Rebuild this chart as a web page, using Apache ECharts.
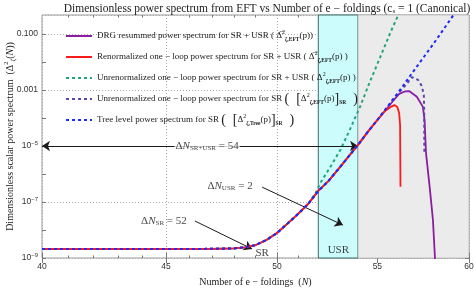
<!DOCTYPE html>
<html><head><meta charset="utf-8">
<script src="https://cdn.jsdelivr.net/npm/echarts@6/dist/echarts.min.js"></script>
<style>html,body{margin:0;padding:0;background:#fff}#c{width:474px;height:289px}</style>
</head><body><div id="c"></div>
<script>
// ---------- data (N = number of e-foldings, P = power spectrum) ----------
const treeN = [40, 44, 47, 48, 48.5, 49, 49.5, 50, 50.5, 51, 51.5, 52, 52.5, 53, 53.5, 54, 54.5, 55, 56, 57, 58, 59, 59.3];
const treeP = [2.1e-9, 2.1e-9, 2.12e-9, 2.2e-9, 2.4e-9, 2.9e-9, 4.4e-9, 7.8e-9, 1.7e-8, 3.7e-8, 8.5e-8, 2.5e-7, 5.6e-7, 1.5e-6, 4.1e-6, 1.1e-5, 3.2e-5, 8.5e-5, 6.6e-4, 5.6e-3, 0.044, 0.37, 0.7];

const renN = [40, 44, 47, 48, 48.5, 49, 49.5, 50, 50.5, 51, 51.5, 52, 52.5, 53, 53.5, 54, 54.5, 55, 55.4, 55.7, 55.9, 56.05, 56.15, 56.2, 56.22];
const renP = [2.1e-9, 2.1e-9, 2.12e-9, 2.2e-9, 2.4e-9, 2.9e-9, 4.4e-9, 7.8e-9, 1.7e-8, 3.7e-8, 8.5e-8, 2.5e-7, 5.6e-7, 1.5e-6, 4.1e-6, 1.1e-5, 3.2e-5, 8.5e-5, 1.8e-4, 2.5e-4, 2.9e-4, 2.5e-4, 1.5e-4, 5.6e-5, 3.5e-7];

const drgN = [40, 44, 47, 48, 48.5, 49, 49.5, 50, 50.5, 51, 51.5, 52, 52.5, 53, 53.5, 54, 54.5, 55, 55.5, 55.8, 56.15, 56.45, 56.7, 57.1, 57.43, 57.52, 57.6, 57.8, 57.98, 58.1];
const drgP = [2.1e-9, 2.1e-9, 2.12e-9, 2.2e-9, 2.4e-9, 2.9e-9, 4.4e-9, 7.8e-9, 1.7e-8, 3.7e-8, 8.5e-8, 2.5e-7, 5.6e-7, 1.5e-6, 4.1e-6, 1.1e-5, 3.2e-5, 8.5e-5, 2.2e-4, 3.9e-4, 7.3e-4, 8.9e-4, 9.1e-4, 5.8e-4, 2.5e-4, 8.5e-5, 5.6e-6, 3.5e-7, 2.3e-8, 8e-10];

const unSRUSRN = [40, 44, 47, 48, 48.5, 49, 49.5, 50, 50.5, 51, 51.5, 51.9, 52.1, 52.6, 53.1, 53.6, 54.1, 54.6, 55.15, 55.7, 56.1, 56.3];
const unSRUSRP = [2.1e-9, 2.1e-9, 2.12e-9, 2.2e-9, 2.4e-9, 2.9e-9, 4.4e-9, 7.8e-9, 1.7e-8, 3.7e-8, 8.5e-8, 2.3e-7, 4.8e-7, 1.8e-6, 7.2e-6, 4.1e-5, 2.5e-4, 1.9e-3, 0.015, 0.12, 0.48, 1.0];

const unSRN = [40, 44, 47, 48, 48.5, 49, 49.5, 50, 50.5, 51, 51.5, 52, 52.5, 53, 53.5, 54, 54.5, 55, 56, 56.5, 56.84, 57.17, 57.37, 57.48, 57.5, 57.51];
const unSRP = [2.1e-9, 2.1e-9, 2.12e-9, 2.2e-9, 2.4e-9, 2.9e-9, 4.4e-9, 7.8e-9, 1.7e-8, 3.7e-8, 8.5e-8, 2.5e-7, 5.6e-7, 1.5e-6, 4.1e-6, 1.1e-5, 3.2e-5, 8.5e-5, 6.6e-4, 1.5e-3, 2.9e-3, 2.3e-3, 1.4e-3, 6.6e-4, 1.9e-4, 5.6e-6];

// tick labels
const xTicks = [40, 45, 50, 55, 60];
const xMinorTicks = [41, 42, 43, 44, 46, 47, 48, 49, 51, 52, 53, 54, 56, 57, 58, 59];
const yLabelExp = [-9, -7, -5, -3, -1];
const yTickExp = [-9, -8, -7, -6, -5, -4, -3, -2, -1];

// phases
const usrStart = 52, usrEnd = 54, nEnd = 60;

// annotations
const annN = [46.79, 47.82, 44.91, 49.3, 53.0];
const annP = [1e-5, 3.7e-7, 2.1e-8, 1.55e-9, 1.95e-9];

// ---------- axis transforms (log x, log y) ----------
const X = n => Math.log(n);
const Y = p => Math.log10(p) + 9;
const pts = (ns, ps) => ns.map((n, i) => [X(n), Y(ps[i])]);

const SERIF = 'Liberation Serif';
const xMin = X(40), xMax = X(60), yMin = 0, yMax = Y(0.48);

const richLeg = {
  t: {fontFamily: SERIF, fontSize: 9, lineHeight: 14, color: '#222', verticalAlign: 'middle'},
  p: {fontFamily: SERIF, fontSize: 6, color: '#222', verticalAlign: 'top'},
  b: {fontFamily: SERIF, fontSize: 5.5, fontWeight: 'bold', color: '#222', verticalAlign: 'bottom'},
  s: {fontFamily: SERIF, fontSize: 5.5, fontWeight: 'bold', color: '#222', verticalAlign: 'bottom'},
  g: {fontFamily: SERIF, fontSize: 14, lineHeight: 14, color: '#222', verticalAlign: 'middle'}
};
const legText = {
  'DRG': '{t|DRG resummed power spectrum for SR + USR ( }{t|Δ̅}{p|2}{b|ζ,EFT}{t|(p))}',
  'REN': '{t|Renormalized one − loop power spectrum for SR + USR ( }{t|Δ̅}{p|2}{b|ζ,EFT}{t|(p) )}',
  'UN1': '{t|Unrenormalized one − loop power spectrum for SR + USR ( Δ}{p|2}{b|ζ,EFT}{t|(p) )}',
  'UN2': '{t|Unrenormalized one − loop power spectrum for SR }{g|(  [}{t|Δ}{p|2}{b|ζ,EFT}{t|(p)}{g|]}{s|SR}{g|  )}',
  'TREE': '{t|Tree level power spectrum for SR }{g|(  [}{t|Δ}{p|2}{b|ζ,Tree}{t|(p)}{g|]}{s|SR}{g|  )}'
};

const annRich = {
  a: {fontFamily: SERIF, fontSize: 11, color: '#111'},
  n: {fontFamily: SERIF, fontSize: 11, fontStyle: 'italic', color: '#111'},
  s: {fontFamily: SERIF, fontSize: 7, color: '#111', verticalAlign: 'bottom'}
};
const annText = [
  '{a|Δ}{n|N}{s|SR+USR}{a| = 54}',
  '{a|Δ}{n|N}{s|USR}{a| = 2}',
  '{a|Δ}{n|N}{s|SR}{a| = 52}',
  '{a|SR}',
  '{a|USR}'
];

const tickColor = '#777';
function xAxisBase(pos, ticks, len, labels) {
  return {
    type: 'value', min: xMin, max: xMax, position: pos, gridIndex: 0,
    axisLine: {show: false},
    axisTick: {show: true, inside: true, length: len, customValues: ticks.map(X), lineStyle: {color: tickColor, width: 1}},
    axisLabel: labels ? {show: true, customValues: xTicks.map(X), formatter: v => String(Math.round(Math.exp(v))), fontSize: 8.5, color: '#333', margin: 4, fontFamily: 'Liberation Sans'} : {show: false},
    splitLine: {show: false}
  };
}
function yAxisBase(pos, len) {
  return {
    type: 'value', min: yMin, max: yMax, position: pos, gridIndex: 0,
    axisLine: {show: false},
    axisTick: {show: true, inside: true, length: len, customValues: yTickExp.map(e => e + 9), lineStyle: {color: tickColor, width: 1}},
    axisLabel: {show: false},
    splitLine: {show: false}
  };
}

const xAxes = [
  Object.assign(xAxisBase('bottom', xTicks, 5, true), {
    splitLine: {show: true, lineStyle: {type: [1, 2], color: '#aaa', width: 1}},
    name: '{a|Number of e − foldings  (}{n|N}{a|)}', nameLocation: 'middle', nameGap: 19, nameMoveOverlap: false,
    nameTextStyle: {rich: {a: {fontFamily: SERIF, fontSize: 10, color: '#222'}, n: {fontFamily: SERIF, fontSize: 10, fontStyle: 'italic', color: '#222'}}}
  }),
  xAxisBase('bottom', xMinorTicks, 2.5, false),
  xAxisBase('top', xTicks, 5, false),
  xAxisBase('top', xMinorTicks, 2.5, false)
];
const yAxes = [
  {
    type: 'value', min: yMin, max: yMax, interval: 2, position: 'left', gridIndex: 0,
    axisLine: {show: false}, axisTick: {show: false},
    axisLabel: {
      fontSize: 8.5, color: '#333', margin: 4, fontFamily: 'Liberation Sans',
      formatter: v => {
        const e = Math.round(v - 9);
        if (Math.abs(v - 9 - e) > 1e-6 || yLabelExp.indexOf(e) < 0) return '';
        if (e === -1) return '{b|0.100}';
        if (e === -3) return '{b|0.001}';
        return '{b|10}{s|−' + (-e) + '}';
      },
      rich: {b: {fontSize: 8.5, color: '#333', lineHeight: 12, verticalAlign: 'middle', fontFamily: 'Liberation Sans'}, s: {fontSize: 6, color: '#333', verticalAlign: 'top', fontFamily: 'Liberation Sans'}}
    },
    splitLine: {show: true, lineStyle: {type: [1, 2], color: '#aaa', width: 1}},
    name: '{a|Dimensionless scalar power spectrum  (Δ}{p|2}{b|ζ}{a|(}{n|N}{a|))}', nameLocation: 'middle', nameGap: 25, nameRotate: 90, nameMoveOverlap: false,
    nameTextStyle: {rich: {
      a: {fontFamily: SERIF, fontSize: 10, color: '#222', lineHeight: 14, verticalAlign: 'middle'},
      n: {fontFamily: SERIF, fontSize: 10, fontStyle: 'italic', color: '#222', lineHeight: 14, verticalAlign: 'middle'},
      p: {fontFamily: SERIF, fontSize: 6.5, color: '#222', verticalAlign: 'top'},
      b: {fontFamily: SERIF, fontSize: 6.5, color: '#222', verticalAlign: 'bottom'}
    }}
  },
  yAxisBase('left', 4),
  yAxisBase('right', 4)
];

function lineSeries(name, ns, ps, color, width, dash, z) {
  return {
    name, type: 'line', xAxisIndex: 0, yAxisIndex: 0, data: pts(ns, ps),
    showSymbol: false, symbol: 'none', smooth: false, clip: true, z,
    lineStyle: {color, width, type: dash || 'solid'}, itemStyle: {color},
    emphasis: {disabled: true}
  };
}

const arrowStyle = {color: '#1a1a1a', width: 1, type: 'solid'};
const option = {
  animation: false,
  backgroundColor: '#fff',
  title: {
    text: '{t|Dimensionless power spectrum from EFT vs Number of e − foldings (c}{s|s}{t| = 1 (Canonical)}',
    left: 262, top: -3, textAlign: 'center',
    textStyle: {fontWeight: 'normal', rich: {t: {fontFamily: SERIF, fontSize: 11.5, fontWeight: 'normal', color: '#222', verticalAlign: 'middle', lineHeight: 13}, s: {fontFamily: SERIF, fontSize: 7, fontWeight: 'normal', color: '#222', verticalAlign: 'bottom'}}}
  },
  grid: {left: 42, right: 5, top: 15, bottom: 31, show: true, borderColor: '#999', borderWidth: 1, backgroundColor: 'transparent', outerBoundsMode: 'none', containLabel: false},
  legend: {
    data: ['DRG', 'REN', 'UN1', 'UN2', 'TREE'], orient: 'vertical', left: 60, top: 24,
    itemWidth: 26, itemHeight: 8, itemGap: 7, selectedMode: false,
    itemStyle: {opacity: 0},
    formatter: n => legText[n], textStyle: {rich: richLeg}
  },
  xAxis: xAxes,
  yAxis: yAxes,
  series: [
    {
      name: 'areas', type: 'line', data: [], z: -1, silent: true,
      markArea: {silent: true, data: [
        [{xAxis: X(usrStart), itemStyle: {color: '#ccfcfc', borderColor: '#3d6b6b', borderWidth: 1}}, {xAxis: X(usrEnd)}],
        [{xAxis: X(usrEnd), itemStyle: {color: '#ebebeb', borderColor: '#999', borderWidth: 0.5}}, {xAxis: X(nEnd)}]
      ]}
    },
    lineSeries('DRG', drgN, drgP, '#8b1da0', 1.8, null, 3),
    lineSeries('UN1', unSRUSRN, unSRUSRP, '#23a57a', 2, [3, 3], 4),
    lineSeries('UN2', unSRN, unSRP, '#5b45a8', 2, [3, 3], 4),
    lineSeries('REN', renN, renP, '#ff1a1a', 1.8, null, 5),
    lineSeries('TREE', treeN, treeP, '#1a2bff', 2, [3, 3], 6),
    {
      name: 'annot', type: 'scatter', xAxisIndex: 0, yAxisIndex: 0, z: 8, silent: true,
      symbolSize: 0.01, itemStyle: {color: 'transparent'},
      data: annN.map((n, i) => ({
        value: [X(n), Y(annP[i])],
        label: {show: true, position: 'inside', formatter: annText[i], rich: annRich,
          backgroundColor: i === 0 ? '#fff' : 'transparent', padding: i === 0 ? [0, 1] : 0}
      })),
      markLine: {
        silent: true, symbolSize: 8, label: {show: false}, lineStyle: arrowStyle, animation: false,
        data: [
          [{coord: [X(40), Y(1e-5)], symbol: 'arrow'}, {coord: [X(54), Y(1e-5)], symbol: 'arrow'}],
          [{coord: [X(49.3), Y(3.4e-7)], symbol: 'none'}, {coord: [X(53.23), Y(1.5e-8)], symbol: 'arrow'}],
          [{coord: [X(46.25), Y(2.1e-8)], symbol: 'none'}, {coord: [X(48.83), Y(2.1e-9)], symbol: 'arrow'}]
        ]
      }
    }
  ]
};
const chart = echarts.init(document.getElementById('c'), null, {renderer: 'canvas'});
chart.setOption(option);
</script>
</body></html>
